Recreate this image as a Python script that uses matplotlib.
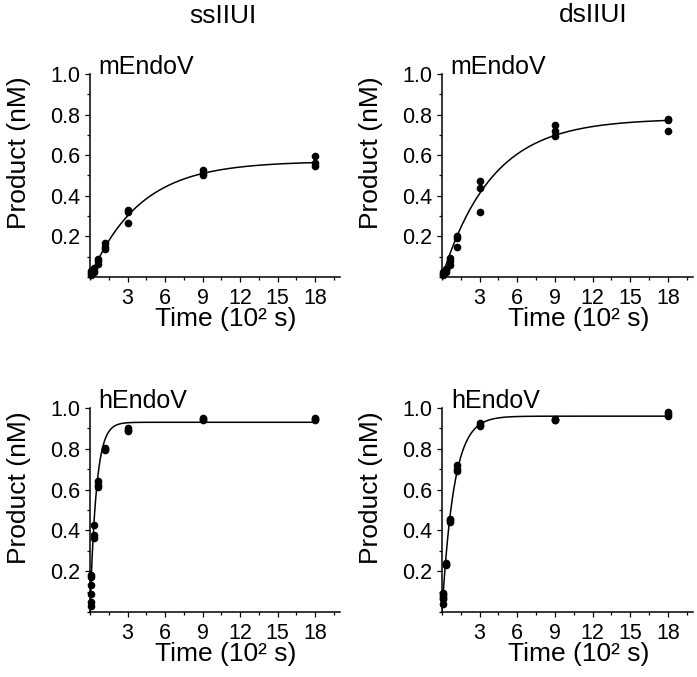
import numpy as np
import matplotlib
matplotlib.use("Agg")
import matplotlib.pyplot as plt
from matplotlib.ticker import MultipleLocator

plt.rcParams["font.family"] = ["Liberation Sans", "DejaVu Sans"]

# time points (10^2 s), three replicates each
t_m = [0.1, 0.1, 0.1, 0.3, 0.3, 0.3, 0.6, 0.6, 0.6, 1.2, 1.2, 1.2,
       3, 3, 3, 9, 9, 9, 18, 18, 18]
t_h = [0.05, 0.05, 0.05, 0.1, 0.1, 0.1, 0.3, 0.3, 0.3, 0.6, 0.6, 0.6,
       1.2, 1.2, 1.2, 3, 3, 3, 9, 9, 9, 18, 18, 18]

# product (nM)
ss_m = [0.02, 0.012, 0.03, 0.045, 0.03, 0.025, 0.09, 0.08, 0.062,
        0.166, 0.146, 0.136, 0.33, 0.322, 0.268, 0.527, 0.514, 0.502,
        0.596, 0.561, 0.548]
ds_m = [0.023, 0.015, 0.01, 0.041, 0.033, 0.025, 0.092, 0.078, 0.057,
        0.202, 0.19, 0.147, 0.474, 0.436, 0.322, 0.749, 0.717, 0.697,
        0.78, 0.775, 0.72]
ss_h = [0.03, 0.05, 0.09, 0.13, 0.17, 0.18, 0.427, 0.377, 0.364,
        0.64, 0.625, 0.615, 0.806, 0.8, 0.795, 0.9, 0.89, 0.885,
        0.95, 0.945, 0.94, 0.952, 0.946, 0.942]
ds_h = [0.04, 0.066, 0.09, 0.07, 0.08, 0.095, 0.24, 0.236, 0.232,
        0.458, 0.45, 0.441, 0.719, 0.7, 0.691, 0.927, 0.918, 0.91,
        0.948, 0.943, 0.94, 0.98, 0.972, 0.96]

# single-exponential fits: amplitude, rate (per 10^2 s)
fit_ss_m = (0.57, 0.25)
fit_ds_m = (0.78, 0.25)
fit_ss_h = (0.93, 2.0)
fit_ds_h = (0.96, 1.05)

W, H = 697, 677
fig = plt.figure(figsize=(W / 100, H / 100), dpi=100)

# axes boxes in pixels: left, top(1.0), right, bottom(0)
boxes = [(90, 74, 340, 277), (442, 74, 693, 277),
         (90, 408, 340, 612), (442, 408, 693, 612)]
panels = [(t_m, ss_m, fit_ss_m, "mEndoV"),
          (t_m, ds_m, fit_ds_m, "mEndoV"),
          (t_h, ss_h, fit_ss_h, "hEndoV"),
          (t_h, ds_h, fit_ds_h, "hEndoV")]

tt = np.linspace(0, 18, 400)
for (l, t, r, b), (tx, ty, (A, k), name) in zip(boxes, panels):
    ax = fig.add_axes([l / W, 1 - b / H, (r - l) / W, (b - t) / H])
    ax.plot(tt, A * (1 - np.exp(-k * tt)), color="black", lw=1.1)
    ax.plot(tx, ty, "o", color="black", ms=4.5, clip_on=False)
    ax.set_xlim(0, 20)
    ax.set_ylim(0, 1.0)
    ax.set_xticks([3, 6, 9, 12, 15, 18])
    ax.xaxis.set_minor_locator(MultipleLocator(1.5))
    ax.set_yticks([0.2, 0.4, 0.6, 0.8, 1.0])
    ax.set_yticklabels(["0.2", "0.4", "0.6", "0.8", "1.0"])
    ax.yaxis.set_minor_locator(MultipleLocator(0.1))
    for s in ["top", "right"]:
        ax.spines[s].set_visible(False)
    for s in ["left", "bottom"]:
        ax.spines[s].set_linewidth(1.1)
    ax.tick_params(which="major", length=3.6, width=0.9, labelsize=15.5)
    ax.tick_params(axis="x", which="major", pad=4)
    ax.tick_params(which="minor", length=2, width=0.9)
    ax.set_xlabel("Time (10² s)", fontsize=19)
    ax.xaxis.set_label_coords(0.543, -0.147)
    ax.set_ylabel("Product (nM)", fontsize=19)
    ax.yaxis.set_label_coords(-0.235, 0.61)
    ax.text(0.035, 1.0, name, transform=ax.transAxes, fontsize=18,
            va="baseline", ha="left")

fig.text(223 / W, 1 - 22.7 / H, "ssIIUI", fontsize=19, ha="center", va="baseline")
fig.text(593 / W, 1 - 22.0 / H, "dsIIUI", fontsize=19, ha="center", va="baseline")

fig.savefig("out.png", dpi=100)
